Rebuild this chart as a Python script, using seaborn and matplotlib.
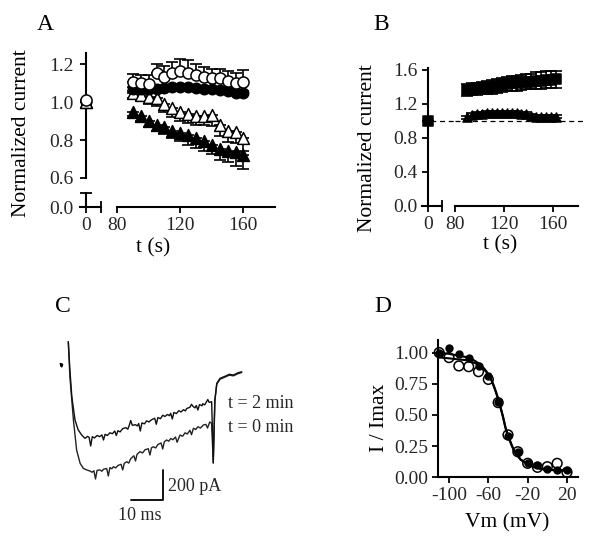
import numpy as np
import matplotlib
matplotlib.use("Agg")
import matplotlib.pyplot as plt
import seaborn as sns

# ---- Panel A: normalized current vs time ----
t_a = [90, 95, 100, 105, 110, 115, 120, 125, 130, 135, 140, 145, 150, 155, 160]
a_open_circle = [1.108, 1.103, 1.096, 1.152, 1.134, 1.152, 1.166, 1.155, 1.143, 1.134, 1.126, 1.126, 1.113, 1.103, 1.108]
a_open_circle_err = [0.04, 0.04, 0.05, 0.05, 0.06, 0.06, 0.06, 0.07, 0.06, 0.05, 0.05, 0.05, 0.05, 0.05, 0.06]
a_fill_circle = [1.07, 1.07, 1.07, 1.07, 1.075, 1.08, 1.08, 1.08, 1.075, 1.07, 1.07, 1.065, 1.06, 1.05, 1.05]
a_fill_circle_err = [0.01] * 15
a_open_tri = [1.05, 1.04, 1.03, 1.02, 0.99, 0.97, 0.95, 0.94, 0.93, 0.93, 0.935, 0.88, 0.85, 0.845, 0.81]
a_open_tri_err = [0.03, 0.03, 0.04, 0.04, 0.04, 0.05, 0.05, 0.05, 0.05, 0.05, 0.06, 0.06, 0.06, 0.06, 0.07]
a_fill_tri = [0.95, 0.93, 0.90, 0.88, 0.87, 0.85, 0.835, 0.825, 0.81, 0.795, 0.775, 0.755, 0.745, 0.735, 0.72]
a_fill_tri_err = [0.02, 0.03, 0.03, 0.03, 0.04, 0.04, 0.04, 0.05, 0.05, 0.05, 0.05, 0.06, 0.06, 0.07, 0.07]

# ---- Panel B ----
t_b = [90, 94, 98, 102, 106, 110, 114, 118, 122, 126, 130, 134, 138, 142, 146, 150, 154, 158, 162]
b_square = [1.36, 1.37, 1.375, 1.38, 1.39, 1.40, 1.41, 1.42, 1.43, 1.44, 1.44, 1.45, 1.46, 1.46, 1.47, 1.47, 1.48, 1.48, 1.49]
b_square_err = [0.07, 0.07, 0.07, 0.07, 0.08, 0.08, 0.08, 0.08, 0.08, 0.09, 0.09, 0.09, 0.09, 0.09, 0.10, 0.10, 0.10, 0.10, 0.10]
b_tri = [1.04, 1.07, 1.08, 1.08, 1.09, 1.09, 1.09, 1.09, 1.09, 1.09, 1.09, 1.08, 1.08, 1.06, 1.05, 1.05, 1.05, 1.05, 1.05]
b_tri_err = [0.02] * 19

# ---- Panel C: current traces (ms, pA) ----
c_t_2min = [0, 0.5, 1.1, 2.1, 3.1, 4.2, 5.2, 6.0, 6.5, 7.0, 7.5, 8.2, 9, 9.8, 10.5, 11, 11.5, 12.2, 13, 13.8, 14.5, 15, 15.5,
            16.2, 17, 18, 18.6, 19, 19.5, 20, 21, 21.6, 22, 22.5, 23, 23.8, 24.5, 25.2, 26, 27, 27.5, 28, 28.8, 29.5,
            30.2, 31, 31.6, 32, 32.5, 33, 33.8, 34.5, 35.2, 36, 36.6, 37, 38, 38.5, 39, 39.6, 40, 40.5, 41, 41.8,
            42, 42.6, 43, 43.6, 44, 44.8, 45.3, 45.8, 46.4, 47.4, 49, 50.3, 51.6, 53, 54.2]
c_i_2min = [155, -33, -211, -367, -433, -467, -489, -476, -482, -540, -478, -486, -470, -478, -466, -500, -462, -470, -452, -458, -440, -470, -438,
            -446, -424, -418, -428, -405, -370, -402, -398, -406, -390, -440, -386, -392, -372, -380, -365, -355, -395, -350, -358, -335,
            -343, -330, -338, -322, -360, -316, -324, -305, -313, -298, -306, -290, -282, -262, -276, -286, -270, -300, -264, -272,
            -258, -266, -252, -230, -249, -245, -653, -233, -122, -89, -75, -62, -67, -52, -45]
c_t_0min = [0, 0.5, 1.6, 2.6, 3.7, 4.7, 5.8, 6.8, 7.4, 8, 8.5, 9, 9.9, 10.5, 11, 12, 12.5, 13, 13.6, 14.1, 14.8, 15.5, 16.5, 17, 17.5,
            18.3, 18.9, 19.5, 20.5, 21, 21.5, 22.4, 23.2, 24, 25, 25.5, 26, 26.6, 27.3, 28, 29, 29.5, 30, 30.7, 31.4, 32, 32.7, 33.5, 34,
            34.9, 35.7, 36.5, 37.2, 38, 38.5, 39.1, 39.8, 40.5, 41.3, 42.2, 43, 43.5, 44.2, 44.8, 45.3, 45.8, 46.4, 47.4, 49, 50.3, 51.6, 53, 54.2]
c_i_0min = [155, -78, -367, -567, -656, -689, -700, -707, -715, -705, -760, -702, -700, -708, -695, -690, -740, -684, -692, -678, -686, -670, -662, -700, -655,
            -645, -654, -625, -605, -640, -595, -578, -586, -565, -558, -600, -552, -545, -553, -530, -520, -560, -512, -500, -508, -490, -498, -480, -515,
            -467, -475, -452, -460, -435, -465, -422, -430, -412, -420, -400, -396, -420, -380, -389, -653, -240, -128, -95, -80, -68, -72, -58, -50]
c_artifact_t = [-2.4, -2.1, -1.9]
c_artifact_i = [8, -10, 4]

# ---- Panel D: steady-state inactivation ----
vm_d = [-110, -100, -90, -80, -70, -60, -50, -40, -30, -20, -10, 0, 10, 20]
d_open = [1.0, 0.96, 0.893, 0.887, 0.847, 0.785, 0.599, 0.34, 0.205, 0.112, 0.08, 0.085, 0.112, 0.04]
d_fill = [1.0, 1.036, 0.99, 0.96, 0.89, 0.81, 0.60, 0.33, 0.20, 0.115, 0.095, 0.07, 0.055, 0.06]
fit_vm = [-111, -100, -90, -83, -75, -69, -64, -62, -60, -57, -54, -52, -49, -47, -45, -43, -42,
          -40, -38.5, -36, -33.5, -30, -27, -22, -18, -12, -8, 0, 10, 20]
fit_open = [0.962, 0.954, 0.945, 0.94, 0.92, 0.90, 0.86, 0.845, 0.82, 0.78, 0.72, 0.675, 0.60, 0.54, 0.48, 0.41, 0.38,
            0.33, 0.30, 0.25, 0.205, 0.17, 0.14, 0.115, 0.10, 0.08, 0.072, 0.063, 0.057, 0.053]
fit_fill = [1.0, 0.99, 0.975, 0.965, 0.94, 0.91, 0.87, 0.85, 0.825, 0.785, 0.725, 0.68, 0.605, 0.545, 0.485, 0.415, 0.385,
            0.335, 0.305, 0.255, 0.21, 0.172, 0.142, 0.115, 0.098, 0.078, 0.07, 0.06, 0.055, 0.052]

sns.set_theme(style="ticks")
plt.rcParams["font.family"] = ["Liberation Serif", "DejaVu Serif"]
plt.rcParams["axes.unicode_minus"] = False
plt.rcParams["axes.linewidth"] = 1.5

W, H = 600, 551
fig = plt.figure(figsize=(6, 5.51), dpi=100)


def px_axes(x0, y0, x1, y1):
    ax = fig.add_axes([x0 / W, 1 - y1 / H, (x1 - x0) / W, (y1 - y0) / H])
    ax.patch.set_alpha(0)
    for s in ax.spines.values():
        s.set_visible(False)
        s.set_linewidth(1.5)
        s.set_color("black")
    ax.set_xticks([])
    ax.set_yticks([])
    ax.tick_params(which="major", direction="out", length=4, width=1.3, labelsize=14, color="black")
    ax.tick_params(which="minor", direction="inout", length=9, width=1.3, color="black")
    return ax


def fig_text(x, y, s, **kw):
    fig.text(x / W, 1 - y / H, s, color="black", **kw)


def series(ax, x, y, err, marker, filled, ms, side, z):
    lo = [0] * len(err) if side == "up" else err
    hi = [0] * len(err) if side == "down" else err
    ax.errorbar(x, y, yerr=[lo, hi], fmt="none", ecolor="black", elinewidth=1.2,
                capsize=4, capthick=1.2, zorder=z)
    sns.scatterplot(x=x, y=y, ax=ax, marker=marker, s=ms ** 2,
                    color="black" if filled else "white", edgecolor="black",
                    linewidth=1.1, zorder=z + 0.5, clip_on=False)


# ================= Panel A =================
a_sx = 1.575  # px per s
a_tl = px_axes(80, 53, 117, 178)
a_bl = px_axes(80, 193, 117, 207)
a_tr = px_axes(117, 53, 275, 178)
a_br = px_axes(117, 193, 275, 207)
for ax in (a_tl, a_bl):
    ax.set_xlim(-6 / a_sx, 31 / a_sx)
    ax.spines["left"].set_visible(True)
    ax.spines["left"].set_position(("data", 0))
for ax in (a_tr, a_br):
    ax.set_xlim(80, 180)
for ax in (a_tl, a_tr):
    ax.set_ylim(0.6, 1.26)
for ax in (a_bl, a_br):
    ax.set_ylim(0, 0.074)
    ax.spines["bottom"].set_visible(True)

a_tl.set_yticks([0.6, 0.8, 1.0, 1.2], ["0.6", "0.8", "1.0", "1.2"])
a_tl.set_yticks([0.6], minor=True)
a_tl.tick_params(axis="y", which="major", pad=5)
a_bl.set_yticks([0.0], ["0.0"])
a_bl.set_yticks([0.074], minor=True)
a_bl.tick_params(axis="y", which="major", pad=5)
a_bl.spines["bottom"].set_bounds(-6 / a_sx, 15 / a_sx)
a_bl.set_xticks([0], ["0"])
a_bl.set_xticks([15 / a_sx], minor=True)
a_br.spines["bottom"].set_bounds(80, 180)
a_br.set_xticks([80, 120, 160], ["80", "120", "160"])
a_br.set_xticks([80], minor=True)

# t = 0 reference points
series(a_tl, [0], [1.0], [0], "^", True, 8.5, "down", 3)
series(a_tl, [0], [1.0], [0], "o", True, 7.5, "down", 4)
series(a_tl, [0], [1.0], [0], "^", False, 8.5, "down", 5)
series(a_tl, [0], [1.01], [0], "o", False, 8.0, "up", 6)

series(a_tr, t_a, a_fill_tri, a_fill_tri_err, "^", True, 8.5, "down", 3)
series(a_tr, t_a, a_open_tri, a_open_tri_err, "^", False, 8.5, "down", 4)
series(a_tr, t_a, a_fill_circle, a_fill_circle_err, "o", True, 7.5, "both", 5)
series(a_tr, t_a, a_open_circle, a_open_circle_err, "o", False, 8.0, "up", 6)

fig_text(37, 25, "A", fontsize=17, ha="left", va="center")
fig_text(22, 133, "Normalized current", fontsize=15.5, rotation=90, ha="center", va="center")
fig_text(153, 248, "t (s)", fontsize=15.5, ha="center", va="center")

# ================= Panel B =================
b_sx = 1.23
b_l = px_axes(421.7, 68, 455, 206)
b_r = px_axes(455, 68, 578, 206)
b_l.set_xlim(-6 / b_sx, 27.3 / b_sx)
b_r.set_xlim(80, 180)
for ax in (b_l, b_r):
    ax.set_ylim(0, 1.62)
    ax.spines["bottom"].set_visible(True)
    ax.axhline(1.0, color="black", lw=0.9, ls=(0, (4, 3)), zorder=1,
               xmax=1.04 if ax is b_r else 1, clip_on=False)
b_l.spines["left"].set_visible(True)
b_l.spines["left"].set_position(("data", 0))
b_l.set_yticks([0, 0.4, 0.8, 1.2, 1.6], ["0.0", "0.4", "0.8", "1.2", "1.6"])
b_l.tick_params(axis="y", which="major", pad=3)
b_l.spines["bottom"].set_bounds(-6 / b_sx, 14 / b_sx)
b_l.set_xticks([0], ["0"])
b_l.set_xticks([14 / b_sx], minor=True)
b_r.spines["bottom"].set_bounds(80, 180)
b_r.set_xticks([80, 120, 160], ["80", "120", "160"])
b_r.set_xticks([80], minor=True)

series(b_l, [0], [1.0], [0], "s", True, 7.5, "both", 4)
series(b_r, t_b, b_tri, b_tri_err, "^", True, 6.5, "both", 3)
series(b_r, t_b, b_square, b_square_err, "s", True, 7.0, "both", 4)

fig_text(381, 25, "B", fontsize=17, ha="center", va="center")
fig_text(368, 148, "Normalized current", fontsize=15.5, rotation=90, ha="center", va="center")
fig_text(500, 245, "t (s)", fontsize=15.5, ha="center", va="center")

# ================= Panel C =================
c_ax = px_axes(50, 320, 300, 530)
c_ax.set_xlim((50 - 68.3) / 3.2, (300 - 68.3) / 3.2)
c_ax.set_ylim(-1100, 300)
sns.lineplot(x=c_t_0min, y=c_i_0min, ax=c_ax, color="#222222", lw=1.0, sort=False, estimator=None)
sns.lineplot(x=c_t_2min, y=c_i_2min, ax=c_ax, color="#111111", lw=1.0, sort=False, estimator=None)
sns.lineplot(x=c_artifact_t, y=c_artifact_i, ax=c_ax, color="black", lw=1.5, sort=False, estimator=None)
# scale bar
c_ax.plot([19.5, 29.5, 29.5], [-900, -900, -700], color="black", lw=1.3)
c_ax.text(31.2, -812, "200 pA", fontsize=13, ha="left", va="center")
c_ax.text(22.4, -1000, "10 ms", fontsize=13, ha="center", va="center")
c_ax.text(50, -260, "t = 2 min", fontsize=13, ha="left", va="center")
c_ax.text(50, -418, "t = 0 min", fontsize=13, ha="left", va="center")
fig_text(63, 306, "C", fontsize=17, ha="center", va="center")

# ================= Panel D =================
d_ax = px_axes(438.3, 340, 578.3, 477.3)
d_ax.set_xlim(-110.9, 31.5)
d_ax.set_ylim(0, 1.101)
d_ax.spines["left"].set_visible(True)
d_ax.spines["bottom"].set_visible(True)
d_ax.set_yticks([0, 0.25, 0.5, 0.75, 1.0], ["0.00", "0.25", "0.50", "0.75", "1.00"])
d_ax.set_xticks([-100, -60, -20, 20], ["-100", "-60", "-20", "20"])
d_ax.tick_params(axis="both", which="major", pad=3)
sns.lineplot(x=fit_vm, y=fit_fill, ax=d_ax, color="black", lw=1.5, sort=False, estimator=None)
sns.lineplot(x=fit_vm, y=fit_open, ax=d_ax, color="black", lw=1.5, sort=False, estimator=None)
sns.scatterplot(x=vm_d, y=d_fill, ax=d_ax, marker="o", s=5.0 ** 2, color="black",
                edgecolor="black", linewidth=1, zorder=4, clip_on=False)
sns.scatterplot(x=vm_d, y=d_open, ax=d_ax, marker="o", s=7.0 ** 2, color="none",
                edgecolor="black", linewidth=1.1, zorder=5, clip_on=False)
fig_text(383, 307, "D", fontsize=17, ha="center", va="center")
fig_text(380, 418, "I / Imax", fontsize=15.5, rotation=90, ha="center", va="center")
fig_text(507, 523, "Vm (mV)", fontsize=15.5, ha="center", va="center")

fig.savefig("out.png", dpi=100, facecolor="white")
